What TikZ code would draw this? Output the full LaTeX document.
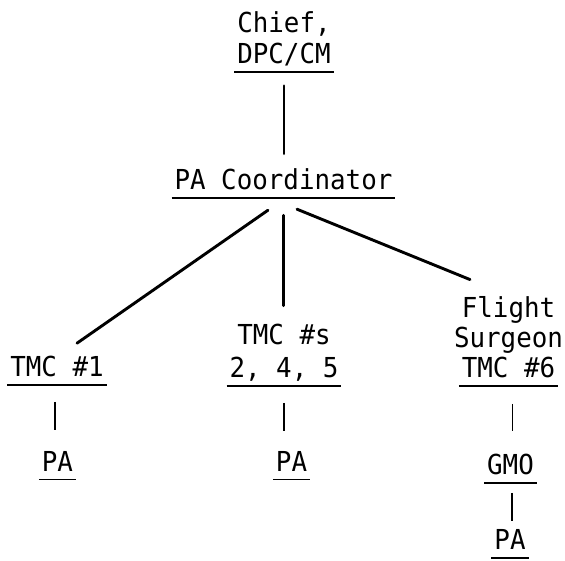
\documentclass[tikz,border=0pt]{standalone}
\usepackage{fontspec}
\setmonofont[FakeStretch=0.94]{DejaVu Sans Mono}
% underline that runs 3pt past both ends of its text, 7.4pt to 8.8pt below the baseline
\newcommand\ulline[1]{\setbox0=\hbox{#1}\rlap{\kern-3pt\vrule height -7.4pt depth 8.8pt width \dimexpr\wd0+6pt\relax}\box0}
\tikzset{
  lbl/.style={inner sep=0pt, align=center, anchor=south,
    font=\ttfamily\fontsize{27.5}{#1}\selectfont},
  lbl/.default=31,
  link/.style={line width=2.9pt, line cap=round},
  tick/.style={line width=1.9pt},
}
\begin{document}
\begin{tikzpicture}[x=1pt,y=-1pt]
\useasboundingbox (0,0) rectangle (565,560);

% organisation levels
\node[lbl] (chief) at (284,72.8) {Chief,\\\ulline{DPC/CM}};
\node[lbl] (coord) at (283.5,198.8) {\ulline{PA Coordinator}};
\node[lbl] (tmc1) at (57,385.8) {\ulline{TMC \#1}};
\node[lbl=33] (tmcs) at (284,386.8) {TMC \#s\\\ulline{2, 4, 5}};
\node[lbl=30] (flight) at (508.5,386.8) {Flight\\Surgeon\\\ulline{TMC \#6}};
\node[lbl] (pa1) at (57.5,480.3) {\ulline{PA}};
\node[lbl] (pa2) at (291.5,480.5) {\ulline{PA}};
\node[lbl] (gmo) at (510.5,483.8) {\ulline{GMO}};
\node[lbl] (pa3) at (510,558.8) {\ulline{PA}};

% reporting lines
\draw[link, shorten <=13pt, shorten >=15pt] (chief.south) -- (chief.south |- coord.north);
\draw[link] ([xshift=-15.5pt,yshift=-11.4pt]coord.south) -- ([xshift=20pt,yshift=13pt]tmc1.north);
\draw[link, shorten <=16.5pt, shorten >=18.5pt] (coord.south) -- (coord.south |- tmcs.north);
\draw[link] ([xshift=13.5pt,yshift=-10.4pt]coord.south) -- ([xshift=-38.5pt,yshift=17pt]flight.north);

% short links to the lower levels
\draw[tick, shorten <=16pt, shorten >=21.5pt] ([xshift=-2pt]tmc1.south) -- ([xshift=-2pt]tmc1.south |- pa1.north);
\draw[tick, shorten <=16pt, shorten >=20.5pt] (tmcs.south) -- (tmcs.south |- pa2.north);
\draw[tick, shorten <=17pt, shorten >=23.5pt] ([xshift=4pt]flight.south) -- ([xshift=4pt]flight.south |- gmo.north);
\draw[tick, shorten <=9pt, shorten >=9pt] ([xshift=1.5pt]gmo.south) -- ([xshift=1.5pt]gmo.south |- pa3.north);
\end{tikzpicture}
\end{document}
